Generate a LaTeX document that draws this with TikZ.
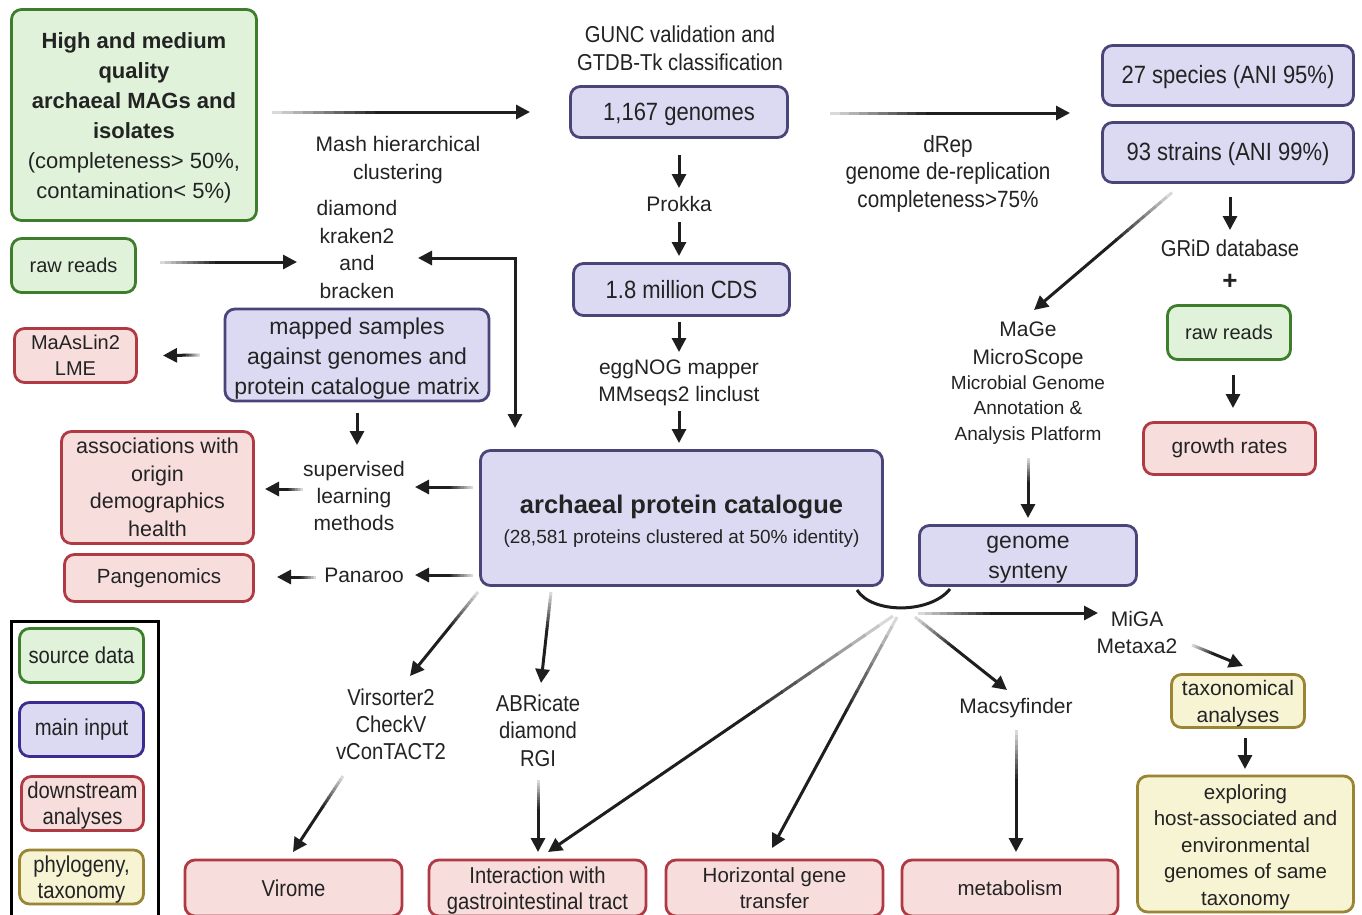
\documentclass[tikz,border=0pt]{standalone}
\usepackage{fontspec}
\setmainfont{Liberation Sans}
\newfontfamily\cf[FakeStretch=0.88]{Liberation Sans}
\usetikzlibrary{arrows.meta,calc}
\definecolor{gfill}{HTML}{E0F3DA}
\definecolor{gdraw}{HTML}{3E7D2C}
\definecolor{pfill}{HTML}{DCDAF2}
\definecolor{pdraw}{HTML}{4A4578}
\definecolor{pdrawL}{HTML}{3A2C90}
\definecolor{rfill}{HTML}{F8DDDD}
\definecolor{rdraw}{HTML}{B03A43}
\definecolor{yfill}{HTML}{F7F4D4}
\definecolor{ydraw}{HTML}{9A8534}
\definecolor{txt}{HTML}{232323}
\definecolor{adark}{HTML}{1E1E1E}
\newcommand\fsz[2]{\fontsize{#1}{#2}\selectfont}
\newcommand\up[1]{\rule{0pt}{#1}}
\newcommand\garrow[2]{%
  \coordinate (gA) at (#1);
  \coordinate (gB) at (#2);
  \foreach \k in {0,...,9}{%
    \pgfmathsetmacro\ta{\k*0.04}%
    \pgfmathsetmacro\tb{\k*0.04+0.045}%
    \pgfmathsetmacro\sh{15+7.5*\k}%
    \draw[line width=3pt, draw=black!\sh!white] ($(gA)!\ta!(gB)$) -- ($(gA)!\tb!(gB)$);
  }
  \draw[arr] ($(gA)!0.4!(gB)$) -- (gB);
}
\begin{document}
\begin{tikzpicture}[x=1pt,y=-1pt,
  box/.style={draw, rounded corners=10pt, line width=2.8pt, align=center, inner sep=0pt, outer sep=0pt, text=txt},
  gbox/.style={box, fill=gfill, draw=gdraw},
  pbox/.style={box, fill=pfill, draw=pdraw},
  rbox/.style={box, fill=rfill, draw=rdraw},
  ybox/.style={box, fill=yfill, draw=ydraw},
  lbl/.style={align=center, inner sep=0pt, outer sep=0pt, text=txt},
  arr/.style={line width=3pt, draw=adark, -{Triangle[length=14pt,width=14pt]}},
  arrb/.style={line width=3pt, draw=adark, {Triangle[length=14pt,width=14pt]}-{Triangle[length=14pt,width=14pt]}}
]
\useasboundingbox[fill=white] (0,0) rectangle (1362,914);

% ---------- boxes ----------
\node[gbox, minimum width=245pt, minimum height=211pt, font=\fsz{22}{30}] (src) at (134,115)
  {\up{21pt}\textbf{High and medium}\\\textbf{quality}\\\textbf{archaeal MAGs and}\\\textbf{isolates}\\(completeness> 50\%,\\contamination< 5\%)};
\node[gbox, minimum width=124pt, minimum height=54pt, font=\fsz{20}{26}] (rawL) at (73.5,265.5) {raw reads};
\node[rbox, minimum width=122pt, minimum height=54pt, font=\fsz{20}{26}] (maas) at (75.5,355.5) {MaAsLin2\\LME};
\node[pbox, minimum width=264pt, minimum height=92pt, font=\fsz{23}{30}] (mapped) at (357,355)
  {\up{23pt}mapped samples\\against genomes and\\protein catalogue matrix};
\node[rbox, minimum width=192pt, minimum height=112pt, font=\fsz{21.5}{27.5}] (assoc) at (157.5,487.5)
  {associations with\\origin\\demographics\\health};
\node[rbox, minimum width=189pt, minimum height=47pt, font=\fsz{20.5}{26}] (pang) at (159,578) {Pangenomics};

\node[pbox, minimum width=217pt, minimum height=51pt, font=\cf\fsz{25}{30}] (g1167) at (679,112) {\up{22pt}1,167 genomes};
\node[pbox, minimum width=216pt, minimum height=52pt, font=\cf\fsz{25}{30}] (cds) at (681.5,289.5) {1.8 million CDS};
\node[pbox, minimum width=402pt, minimum height=135pt, font=\fsz{19}{30}] (cat) at (681.5,518)
  {\up{24pt}\textbf{\fsz{25.5}{30}archaeal protein catalogue}\\(28,581 proteins clustered at 50\% identity)};

\node[pbox, minimum width=251pt, minimum height=60pt, font=\cf\fsz{25}{30}] (sp27) at (1228,75.5) {\up{22pt}27 species (ANI 95\%)};
\node[pbox, minimum width=251pt, minimum height=60pt, font=\cf\fsz{25}{30}] (st93) at (1228,152.5) {\up{22pt}93 strains (ANI 99\%)};
\node[gbox, minimum width=123pt, minimum height=54pt, font=\fsz{20}{26}] (rawR) at (1229,332.5) {raw reads};
\node[rbox, minimum width=172pt, minimum height=52pt, font=\fsz{21}{26}] (growth) at (1229.5,448.5) {growth rates};
\node[pbox, minimum width=217pt, minimum height=60pt, font=\fsz{23}{30}] (synt) at (1028,555.5) {\up{20pt}genome\\synteny};
\node[ybox, minimum width=133pt, minimum height=53pt, font=\fsz{21}{27}] (taxo) at (1238,701) {\up{21.3pt}taxonomical\\analyses};
\node[ybox, minimum width=216pt, minimum height=136pt, font=\fsz{20.5}{26.5}] (expl) at (1245.5,844)
  {\up{21pt}exploring\\host-associated and\\environmental\\genomes of same\\taxonomy};

\node[rbox, minimum width=217pt, minimum height=56pt, font=\cf\fsz{23}{26}] (virome) at (293.5,888) {Virome};
\node[rbox, minimum width=217pt, minimum height=56pt, font=\cf\fsz{23}{26}] (inter) at (537.5,888) {\up{22.5pt}Interaction with\\gastrointestinal tract};
\node[rbox, minimum width=217pt, minimum height=56pt, font=\fsz{20.5}{26}] (hgt) at (774.5,888) {Horizontal gene\\transfer};
\node[rbox, minimum width=216pt, minimum height=56pt, font=\fsz{20.5}{26}] (metab) at (1010,888) {metabolism};

% ---------- legend ----------
\draw[line width=3pt, black] (11,621) rectangle (158,930);
\node[gbox, minimum width=124pt, minimum height=54pt, font=\cf\fsz{23}{26}] (lg1) at (81.5,655.5) {source data};
\node[box, fill=pfill, draw=pdrawL, minimum width=124pt, minimum height=54pt, font=\cf\fsz{23}{26}] (lg2) at (81.5,729.5) {main input};
\node[rbox, minimum width=122pt, minimum height=54pt, font=\cf\fsz{23}{26}] (lg3) at (82.5,803.5) {\up{21.5pt}downstream\\analyses};
\node[ybox, minimum width=124pt, minimum height=54pt, font=\cf\fsz{23}{26}] (lg4) at (81.5,877) {\up{22.5pt}phylogeny,\\taxonomy};

% ---------- labels ----------
\node[lbl, font=\cf\fsz{23}{28}] (gunc) at (680,48) {GUNC validation and\\GTDB-Tk classification};
\node[lbl, font=\fsz{21}{28}] (mash) at (398,160) {Mash hierarchical\\clustering};
\node[lbl, font=\fsz{21}{27.7}] (dkab) at (357,249.5) {diamond\\kraken2\\and\\bracken};
\node[lbl, font=\fsz{21}{28}] (prokka) at (679,204) {Prokka};
\node[lbl, font=\fsz{21}{27}] (egg) at (679,383) {eggNOG mapper\\MMseqs2 linclust};
\node[lbl, font=\cf\fsz{23.5}{27.5}] (drep) at (948,173.5) {dRep\\genome de-replication\\completeness>75\%};
\node[lbl, font=\cf\fsz{23}{28}] (grid) at (1230,248) {GRiD database};
\node[lbl, font=\bfseries\fsz{26}{28}] (plus) at (1230,282) {+};
\node[lbl, font=\fsz{21}{28}] (mage) at (1028,345) {MaGe\\MicroScope};
\node[lbl, font=\fsz{19}{25.5}] (mage2) at (1028,410) {Microbial Genome\\Annotation \&\\Analysis Platform};
\node[lbl, font=\fsz{21}{27}] (superv) at (354,496) {supervised\\learning\\methods};
\node[lbl, font=\fsz{21}{27}] (panaroo) at (364,575) {Panaroo};
\node[lbl, font=\cf\fsz{23}{27}] (virs) at (391,724) {Virsorter2\\CheckV\\vConTACT2};
\node[lbl, font=\cf\fsz{23}{27.5}] (abri) at (538,730.5) {ABRicate\\diamond\\RGI};
\node[lbl, font=\fsz{21}{27}] (macsy) at (1016,708) {Macsyfinder};
\node[lbl, font=\fsz{21}{27}] (miga) at (1137,632) {MiGA\\Metaxa2};

% ---------- connectors ----------
\garrow{$(src.east)+(15.5,-3)$}{$(g1167.west)+(-40.5,0)$}
\garrow{$(rawL.east)+(24.5,-3.5)$}{$(dkab.center)+(-60,12.5)$}
\draw[arrb] ($(dkab.center)+(61,8.5)$) -| ($(cat.north west)+(34.5,-22.5)$);
\garrow{$(mapped.west)+(-25,0)$}{$(maas.east)+(26.5,0)$}
\draw[arr] ($(mapped.south)+(0,12)$) -- ($(superv.center)+(3,-51)$);
\garrow{$(cat.west)+(-7.5,-31)$}{$(superv.center)+(61,-9)$}
\garrow{$(superv.center)+(-51,-7)$}{$(assoc.east)+(11.5,1.5)$}
\garrow{$(cat.west)+(-7.5,57)$}{$(panaroo.center)+(51,0)$}
\garrow{$(panaroo.center)+(-48,2)$}{$(pang.east)+(23.5,-1)$}
\garrow{$(cat.south west)+(-2.5,6.5)$}{$(virs.center)+(19,-48)$}
\garrow{$(cat.south west)+(70.5,6.5)$}{$(abri.center)+(3,-47.5)$}
\garrow{$(virs.center)+(-48,52)$}{$(virome.north)+(-0.5,-8)$}
\garrow{$(abri.center)+(0,49.5)$}{$(inter.north)+(0.5,-8)$}
\draw[arr] ($(g1167.south)+(0,17.5)$) -- ($(prokka.center)+(0,-16)$);
\draw[arr] ($(prokka.center)+(0,18)$) -- ($(cds.north)+(-2.5,-7.5)$);
\draw[arr] ($(cds.south)+(-2.5,6)$) -- ($(egg.center)+(0,-31)$);
\draw[arr] ($(egg.center)+(0,28)$) -- ($(cat.north)+(-2.5,-7.5)$);
\garrow{$(g1167.east)+(42.5,1)$}{$(sp27.south west)+(-32.5,7.5)$}
\garrow{$(st93.south)+(-56,10)$}{$(mage.center)+(6,-35)$}
\draw[arr] ($(st93.south)+(2,14.5)$) -- ($(grid.center)+(0,-18)$);
\draw[arr] ($(rawR.south)+(4,15.5)$) -- ($(growth.north)+(3.5,-14.5)$);
\garrow{$(mage2.center)+(0,48)$}{$(synt.north)+(0,-7.5)$}
% brace joining catalogue and synteny
\coordinate (hub) at (902,612);
\draw[line width=3pt, adark] ($(cat.south east)+(-25.5,4.5)$) .. controls (872,614) and (930,614) .. ($(synt.south west)+(30.5,3.5)$);
\garrow{$(hub)+(-9,4)$}{$(inter.north)+(10.5,-8)$}
\garrow{$(hub)+(-5,5)$}{$(hgt.north)+(-2.5,-12)$}
\garrow{$(hub)+(13,5)$}{$(macsy.center)+(-9,-18)$}
\garrow{$(hub)+(16,1)$}{$(miga.center)+(-39,-19)$}
\garrow{$(miga.center)+(55,13)$}{$(taxo.north)+(5,-8.5)$}
\draw[arr] ($(taxo.south)+(7,10.5)$) -- ($(expl.north)+(-0.5,-7)$);
\garrow{$(macsy.center)+(0,22)$}{$(metab.north)+(6,-8)$}
\end{tikzpicture}
\end{document}
